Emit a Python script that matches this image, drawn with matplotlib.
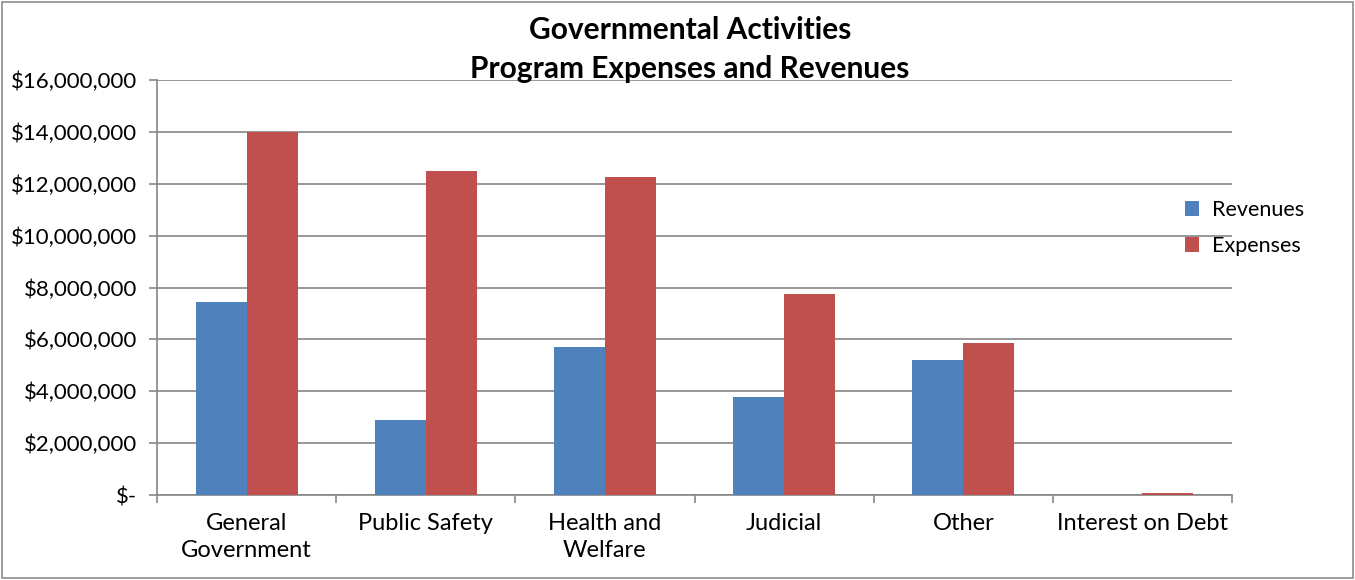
import matplotlib
matplotlib.use("Agg")
import matplotlib.pyplot as plt
import numpy as np
from matplotlib.ticker import FixedLocator, FuncFormatter
from matplotlib.patches import Rectangle

categories = ["General\nGovernment", "Public Safety", "Health and\nWelfare", "Judicial", "Other", "Interest on Debt"]
revenues = [7440000, 2890000, 5700000, 3780000, 5200000, 0]
expenses = [14000000, 12490000, 12250000, 7750000, 5860000, 80000]
yticks = [0, 2000000, 4000000, 6000000, 8000000, 10000000, 12000000, 14000000, 16000000]

plt.rcParams['font.family'] = ['Lato', 'DejaVu Sans']

W, H = 1355, 580
fig = plt.figure(figsize=(W / 100, H / 100), dpi=100)
fig.patches.append(Rectangle((2 / W, 2 / H), 1 - 4 / W, 1 - 4 / H, transform=fig.transFigure,
                             fill=False, edgecolor="#8c8c8c", linewidth=1.2))

ax = fig.add_axes([157 / W, 1 - 495 / H, (1232 - 157) / W, (495 - 80) / H])

x = np.arange(len(categories))
bw = 0.285
grey = "#868686"
ax.bar(x - bw / 2, revenues, bw, color="#4f81bd", label="Revenues", zorder=3)
ax.bar(x + bw / 2, expenses, bw, color="#c0504d", label="Expenses", zorder=3)

ax.set_xlim(-0.5, len(categories) - 0.5)
ax.set_ylim(0, 16000000)
ax.set_yticks(yticks)

def fmt(v, pos):
    if v == 0:
        return "$-"
    return "${:,.0f}".format(v)

ax.yaxis.set_major_formatter(FuncFormatter(fmt))
ax.yaxis.grid(True, color=grey, linewidth=1.2, zorder=0)
ax.set_axisbelow(True)

ax.xaxis.set_major_locator(FixedLocator(np.arange(-0.5, len(categories), 1.0)))
ax.xaxis.set_major_formatter(FuncFormatter(lambda v, p: ""))
ax.xaxis.set_minor_locator(FixedLocator(x))
ax.set_xticklabels(categories, minor=True, linespacing=1.35)
ax.tick_params(axis="x", which="minor", length=0, labelsize=17, pad=13)
ax.tick_params(axis="x", which="major", length=6, color=grey, width=1.2, direction="out")
ax.tick_params(axis="y", length=6, color=grey, width=1.2, labelsize=16, pad=8)

for s in ["top", "right"]:
    ax.spines[s].set_visible(False)
for s in ["left", "bottom"]:
    ax.spines[s].set_color(grey)
    ax.spines[s].set_linewidth(1.2)

fig.text(690 / W, 1 - 30 / H, "Governmental Activities", ha="center", va="center",
         fontsize=21.5, fontweight="bold")
fig.text(690 / W, 1 - 69 / H, "Program Expenses and Revenues", ha="center", va="center",
         fontsize=21.5, fontweight="bold")

leg = ax.legend(loc="center left", bbox_to_anchor=(1166 / W, 1 - 228 / H),
                bbox_transform=fig.transFigure, frameon=False, fontsize=15.5,
                handlelength=0.65, handleheight=0.65, handletextpad=0.6, labelspacing=0.75)

fig.savefig("out.png", dpi=100)
